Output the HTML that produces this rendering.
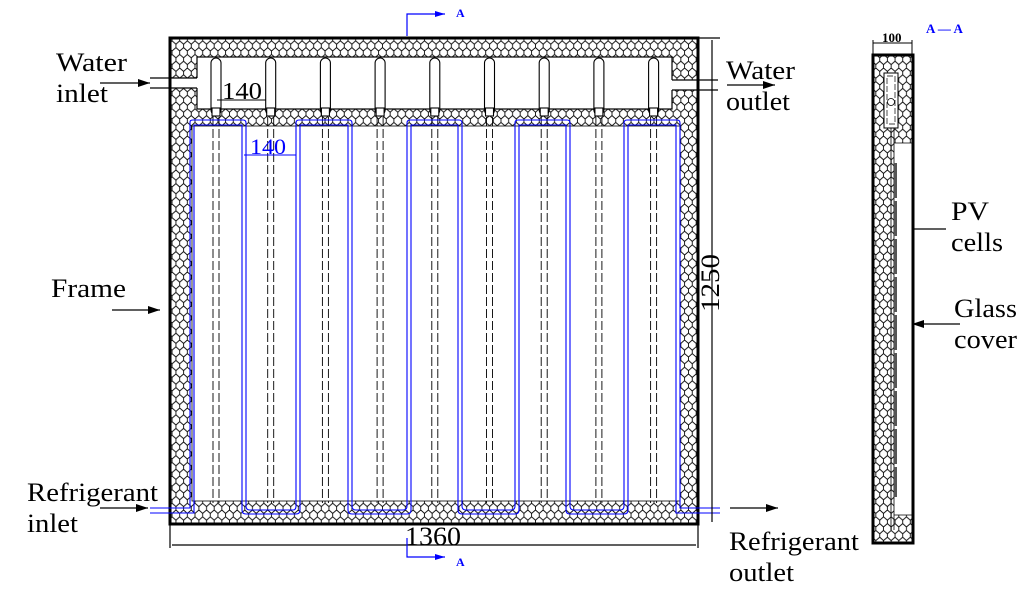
<!DOCTYPE html>
<html><head><meta charset="utf-8"><style>
html,body{margin:0;padding:0;background:#fff}
svg{display:block}
text{font-family:"Liberation Serif",serif;fill:#000}
</style></head><body>
<svg width="1033" height="593" viewBox="0 0 1033 593" xmlns="http://www.w3.org/2000/svg">
<defs>
<pattern id="hex" width="9" height="8" patternUnits="userSpaceOnUse" patternTransform="scale(1.7)">
<rect width="9" height="8" fill="#fff"/>
<path d="M0,2 L2.2,0 L4.5,2 L4.5,4 L2.2,6 L0,4 Z M4.5,4 L6.7,6 L9,4 M6.7,6 L6.7,8 M2.2,6 L2.2,8" fill="none" stroke="#000" stroke-width="0.5"/>
<path d="M4.5,2 L6.7,0 L9,2 L9,4" fill="none" stroke="#000" stroke-width="0.5"/>
</pattern>
<marker id="ar" markerWidth="12" markerHeight="8" refX="12" refY="4" orient="auto" markerUnits="userSpaceOnUse"><path d="M0,0 L12,4 L0,8 Z" fill="#000"/></marker>
<marker id="arb" markerWidth="10" markerHeight="6" refX="10" refY="3" orient="auto" markerUnits="userSpaceOnUse"><path d="M0,0 L10,3 L0,6 Z" fill="#00f"/></marker>
</defs>

<rect x="170" y="38" width="528" height="486" fill="url(#hex)"/>
<rect x="192" y="126" width="488" height="375" fill="#fff"/>
<rect x="197" y="57" width="475" height="52" fill="#fff" stroke="#000" stroke-width="1.2"/>
<rect x="170" y="78" width="28" height="10" fill="#fff"/>
<line x1="150" y1="78" x2="197" y2="78" stroke="#000" stroke-width="1.2"/>
<line x1="150" y1="88" x2="197" y2="88" stroke="#000" stroke-width="1.2"/>
<rect x="671" y="80" width="28" height="10" fill="#fff"/>
<line x1="672" y1="80" x2="718" y2="80" stroke="#000" stroke-width="1.2"/>
<line x1="672" y1="90" x2="718" y2="90" stroke="#000" stroke-width="1.2"/>
<rect x="192" y="126" width="488" height="375" fill="none" stroke="#000" stroke-width="0.8"/>
<rect x="170" y="38" width="528" height="486" fill="none" stroke="#000" stroke-width="3"/>

<g stroke="#000" fill="#fff" stroke-width="1.1">
<g id="t1">
<rect x="211" y="58" width="10" height="57" rx="5"/>
<rect x="212" y="108" width="8" height="8"/>
<line x1="213" y1="117" x2="213" y2="503" stroke-dasharray="9,3" stroke-width="0.9"/>
<line x1="219" y1="117" x2="219" y2="503" stroke-dasharray="9,3" stroke-width="0.9"/>
</g>
<use href="#t1" x="54.7"/><use href="#t1" x="109.4"/><use href="#t1" x="164.1"/><use href="#t1" x="218.8"/><use href="#t1" x="273.5"/><use href="#t1" x="328.2"/><use href="#t1" x="382.9"/><use href="#t1" x="437.6"/>
</g>

<g fill="none" stroke="#00f" stroke-width="1.1">
<path d="M150,508 L190,508 L190,122 Q190,120 193,120 L243,120 Q246,120 246,123 L246,506 Q246,510 250,510 L293,510 Q296,510 296,506 L296,123 Q296,120 299,120 L349,120 Q352,120 352,123 L352,506 Q352,510 356,510 L403,510 Q407,510 407,506 L407,123 Q407,120 410,120 L459,120 Q462,120 462,123 L462,506 Q462,510 466,510 L511,510 Q515,510 515,506 L515,123 Q515,120 518,120 L567,120 Q570,120 570,123 L570,506 Q570,510 574,510 L620,510 Q624,510 624,506 L624,123 Q624,120 627,120 L677,120 Q680,120 680,123 L680,508 L720,508"/>
<path d="M150,513 L194,513 L194,125 L242,125 L242,510 Q242,514 246,514 L296,514 Q300,514 300,510 L300,125 L348,125 L348,510 Q348,514 352,514 L407,514 Q411,514 411,510 L411,125 L458,125 L458,510 Q458,514 462,514 L515,514 Q519,514 519,510 L519,125 L566,125 L566,510 Q566,514 570,514 L624,514 Q628,514 628,510 L628,125 L676,125 L676,513 L720,513"/>
</g>

<g stroke="#000" stroke-width="1">
<line x1="217" y1="100" x2="266" y2="100"/>
</g>
<text x="222" y="99" font-size="24" textLength="40" lengthAdjust="spacingAndGlyphs">140</text>
<g stroke="#00f" stroke-width="1">
<line x1="244" y1="155" x2="296" y2="155"/>
</g>
<text x="250" y="154" font-size="22" textLength="36" lengthAdjust="spacingAndGlyphs" style="fill:#00f">140</text>

<g stroke="#000" stroke-width="1.2">
<line x1="170" y1="524" x2="170" y2="548"/>
<line x1="698" y1="524" x2="698" y2="548"/>
<line x1="172" y1="545" x2="696" y2="545"/>
<line x1="698" y1="38" x2="720" y2="38"/>
<line x1="712" y1="40" x2="712" y2="522"/>
</g>
<text x="405" y="545" font-size="26" textLength="56" lengthAdjust="spacingAndGlyphs">1360</text>
<text transform="translate(719,312) rotate(-90)" font-size="26" textLength="58" lengthAdjust="spacingAndGlyphs">1250</text>

<g stroke="#00f" stroke-width="1.2" fill="none">
<polyline points="407,36 407,14 445,14" marker-end="url(#arb)"/>
<polyline points="407,538 407,557 445,557" marker-end="url(#arb)"/>
</g>
<text x="456" y="17" font-size="12" font-weight="bold" style="fill:#00f">A</text>
<text x="456" y="566" font-size="12" font-weight="bold" style="fill:#00f">A</text>
<text x="926" y="33" font-size="13" font-weight="bold" style="fill:#00f">A — A</text>

<g font-size="26">
<text x="56" y="71" textLength="71" lengthAdjust="spacingAndGlyphs">Water</text>
<text x="56" y="102" textLength="52" lengthAdjust="spacingAndGlyphs">inlet</text>
<text x="726" y="79" textLength="69" lengthAdjust="spacingAndGlyphs">Water</text>
<text x="726" y="110" textLength="64" lengthAdjust="spacingAndGlyphs">outlet</text>
<text x="51" y="297" textLength="75" lengthAdjust="spacingAndGlyphs">Frame</text>
<text x="27" y="501" textLength="131" lengthAdjust="spacingAndGlyphs">Refrigerant</text>
<text x="27" y="532" textLength="51" lengthAdjust="spacingAndGlyphs">inlet</text>
<text x="729" y="550" textLength="130" lengthAdjust="spacingAndGlyphs">Refrigerant</text>
<text x="729" y="581" textLength="65" lengthAdjust="spacingAndGlyphs">outlet</text>
<text x="951" y="220" textLength="38" lengthAdjust="spacingAndGlyphs">PV</text>
<text x="951" y="251" textLength="52" lengthAdjust="spacingAndGlyphs">cells</text>
<text x="954" y="317" textLength="63" lengthAdjust="spacingAndGlyphs">Glass</text>
<text x="954" y="348" textLength="63" lengthAdjust="spacingAndGlyphs">cover</text>
</g>
<line x1="100" y1="83" x2="150" y2="83" stroke="#000" stroke-width="1.2" marker-end="url(#ar)"/>
<line x1="727" y1="85" x2="775" y2="85" stroke="#000" stroke-width="1.2" marker-end="url(#ar)"/>
<line x1="112" y1="310" x2="160" y2="310" stroke="#000" stroke-width="1.2" marker-end="url(#ar)"/>
<line x1="100" y1="508" x2="148" y2="508" stroke="#000" stroke-width="1.2" marker-end="url(#ar)"/>
<line x1="730" y1="508" x2="778" y2="508" stroke="#000" stroke-width="1.2" marker-end="url(#ar)"/>
<line x1="946" y1="229" x2="898" y2="229" stroke="#000" stroke-width="1.2" marker-end="url(#ar)"/>
<line x1="960" y1="324" x2="912" y2="324" stroke="#000" stroke-width="1.2" marker-end="url(#ar)"/>

<rect x="873" y="55" width="40" height="488" fill="url(#hex)"/>
<rect x="894" y="143" width="18" height="372" fill="#fff"/>
<rect x="884" y="73" width="14" height="55" fill="#fff" stroke="#000" stroke-width="1"/>
<rect x="887" y="76" width="8" height="48" fill="none" stroke="#000" stroke-width="0.7" stroke-dasharray="6,2"/>
<circle cx="891" cy="102" r="3.5" fill="none" stroke="#000" stroke-width="0.8"/>
<line x1="891" y1="128" x2="891" y2="530" stroke="#000" stroke-width="0.8"/>
<line x1="894" y1="128" x2="894" y2="530" stroke="#000" stroke-width="0.8"/>
<line x1="894" y1="143" x2="913" y2="143" stroke="#000" stroke-width="0.8"/>
<line x1="894" y1="515" x2="913" y2="515" stroke="#000" stroke-width="0.8"/>
<g fill="#555">
<rect x="894" y="163" width="3" height="35"/><rect x="894" y="201" width="3" height="35"/><rect x="894" y="239" width="3" height="35"/><rect x="894" y="277" width="3" height="35"/><rect x="894" y="315" width="3" height="35"/><rect x="894" y="353" width="3" height="35"/><rect x="894" y="391" width="3" height="35"/><rect x="894" y="429" width="3" height="35"/><rect x="894" y="467" width="3" height="30"/>
</g>
<rect x="873" y="55" width="40" height="488" fill="none" stroke="#000" stroke-width="3"/>
<g stroke="#000" stroke-width="1">
<line x1="873" y1="54" x2="873" y2="40"/><line x1="912" y1="54" x2="912" y2="40"/>
<line x1="873" y1="43" x2="912" y2="43"/>
</g>
<text x="882" y="42" font-size="13" font-weight="bold">100</text>
</svg>
</body></html>
